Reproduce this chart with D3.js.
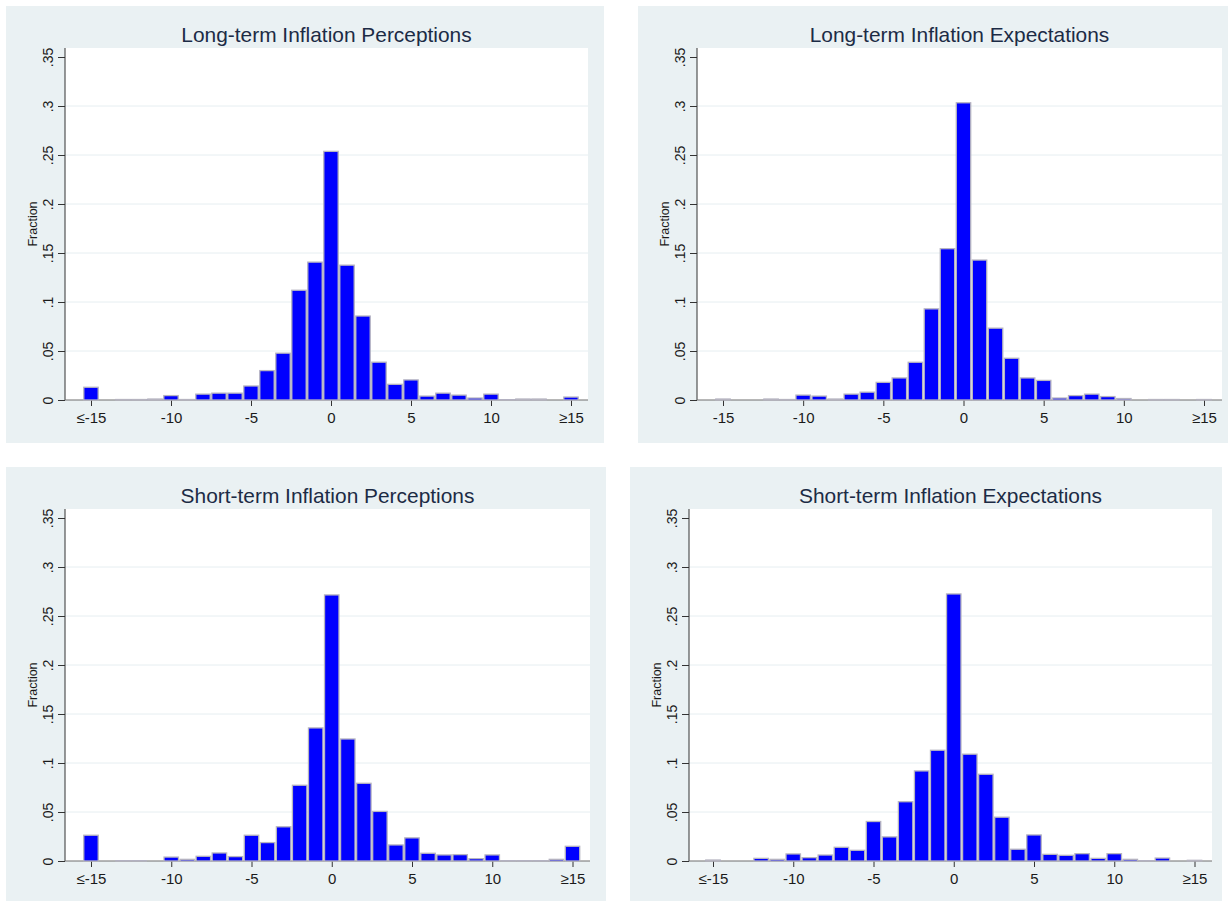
<!DOCTYPE html>
<html>
<head>
<meta charset="utf-8">
<script src="https://cdn.jsdelivr.net/npm/d3@7"></script>
<style>
  body { margin: 0; background: #fff; }
  svg { display: block; }
  text { font-family: "Liberation Sans", Arial, sans-serif; }
</style>
</head>
<body>
<svg id="chart" width="1232" height="901"></svg>
<script>
'use strict'

/* bins: inflation value, -15 means <=-15 and 15 means >=15 */
const bins = [-15, -14, -13, -12, -11, -10, -9, -8, -7, -6, -5, -4, -3, -2, -1, 0,
              1, 2, 3, 4, 5, 6, 7, 8, 9, 10, 11, 12, 13, 14, 15];

const longPerceptions = [0.013, 0, 0.0005, 0.0005, 0.001, 0.0045, 0.0005, 0.006, 0.007, 0.007, 0.0143,
                         0.030, 0.0478, 0.112, 0.1407, 0.2537, 0.1376, 0.0857, 0.0386, 0.016, 0.0205,
                         0.004, 0.007, 0.005, 0.002, 0.006, 0.0003, 0.001, 0.001, 0, 0.003];
const longExpectations = [0.001, 0, 0, 0.001, 0.0005, 0.005, 0.004, 0.001, 0.006, 0.008, 0.018,
                          0.0225, 0.0385, 0.093, 0.1544, 0.3033, 0.1428, 0.0733, 0.0426, 0.0225, 0.020,
                          0.002, 0.0045, 0.006, 0.0035, 0.0015, 0, 0.0005, 0.0005, 0, 0.0005];
const shortPerceptions = [0.0263, 0, 0.0003, 0.0003, 0, 0.004, 0.0017, 0.0048, 0.0082, 0.0045, 0.0263,
                          0.0188, 0.0349, 0.0773, 0.1358, 0.2715, 0.1245, 0.0793, 0.0506, 0.0164, 0.0236,
                          0.0079, 0.0062, 0.0065, 0.0024, 0.0062, 0.0003, 0.0003, 0.0003, 0.0017, 0.015];
const shortExpectations = [0.001, 0, 0, 0.0027, 0.0017, 0.0072, 0.0034, 0.0061, 0.014, 0.0109, 0.0403,
                           0.0246, 0.0605, 0.0919, 0.113, 0.2725, 0.109, 0.0885, 0.0447, 0.012, 0.0266,
                           0.0068, 0.0058, 0.0075, 0.0027, 0.0075, 0.0017, 0.0003, 0.003, 0, 0.0007];

const xTicks = [-15, -10, -5, 0, 5, 10, 15];
const xLabelsCapped = ['≤-15', '-10', '-5', '0', '5', '10', '≥15'];
const xLabelsPlain = ['-15', '-10', '-5', '0', '5', '10', '≥15'];
const yTicks = [0, 0.05, 0.1, 0.15, 0.2, 0.25, 0.3, 0.35];
const yLabels = ['0', '.05', '.1', '.15', '.2', '.25', '.3', '.35'];
const yTitle = 'Fraction';

const titles = ['Long-term Inflation Perceptions', 'Long-term Inflation Expectations',
                'Short-term Inflation Perceptions', 'Short-term Inflation Expectations'];

/* panel boxes: bg = grey region, plot = white region, t15 = pixel of -15 and 15 ticks */
const panels = [
    { title: titles[0], values: longPerceptions,  xLabels: xLabelsCapped,
      bg: [6, 6, 604, 443],   plot: [65, 48, 588, 400],   t15: [91, 571] },
    { title: titles[1], values: longExpectations, xLabels: xLabelsPlain,
      bg: [638, 6, 1228, 443], plot: [697, 48, 1222, 400], t15: [723, 1204] },
    { title: titles[2], values: shortPerceptions, xLabels: xLabelsCapped,
      bg: [6, 467, 606, 901],  plot: [65, 509, 590, 861],  t15: [91, 572.5] },
    { title: titles[3], values: shortExpectations, xLabels: xLabelsCapped,
      bg: [630, 467, 1222, 901], plot: [689, 509, 1212, 861], t15: [713, 1194.5] }
];

const svg = d3.select('#chart');

function drawPanel (p) {
    const [bx0, by0, bx1, by1] = p.bg;
    const [px0, py0, px1, py1] = p.plot;

    svg.append('rect')
        .attr('x', bx0).attr('y', by0)
        .attr('width', bx1 - bx0).attr('height', by1 - by0)
        .attr('fill', '#eaf1f3');

    svg.append('rect')
        .attr('x', px0).attr('y', py0)
        .attr('width', px1 - px0).attr('height', py1 - py0)
        .attr('fill', '#ffffff');

    const xScale = d3.scaleLinear().domain([-15, 15]).range(p.t15);
    const yScale = d3.scaleLinear().domain([0, 0.35]).range([py1, py1 - 343]);

    /* grid */
    svg.append('g')
        .selectAll('line')
        .data(yTicks.filter(v => v > 0 && v < 0.35))
        .enter()
        .append('line')
        .attr('x1', px0).attr('x2', px1)
        .attr('y1', d => yScale(d)).attr('y2', d => yScale(d))
        .attr('stroke', '#e6eef1')
        .attr('stroke-width', 1);

    /* Y AXIS */
    const yAxis = d3.axisLeft(yScale)
                    .tickValues(yTicks)
                    .tickFormat((d, i) => yLabels[i])
                    .tickSizeOuter(0)
                    .tickSize(7);
    const gy = svg.append('g')
        .attr('transform', 'translate(' + px0 + ',0)')
        .call(yAxis);
    gy.select('.domain').remove();
    gy.selectAll('.tick line').attr('stroke', '#333');
    gy.selectAll('.tick text')
        .attr('transform', 'rotate(-90)')
        .attr('x', 0).attr('y', -12).attr('dy', 0)
        .attr('text-anchor', 'middle')
        .style('font-size', '14px')
        .attr('fill', '#1a1a1a');
    svg.append('line')
        .attr('x1', px0).attr('x2', px0)
        .attr('y1', py0).attr('y2', py1)
        .attr('stroke', '#333').attr('stroke-width', 1);

    svg.append('text')
        .attr('transform', 'translate(' + (px0 - 28) + ',' + ((py0 + py1) / 2) + ') rotate(-90)')
        .attr('text-anchor', 'middle')
        .style('font-size', '12.5px')
        .attr('fill', '#1a1a1a')
        .text(yTitle);

    /* X AXIS */
    const xAxis = d3.axisBottom(xScale)
                    .tickValues(xTicks)
                    .tickFormat((d, i) => p.xLabels[i])
                    .tickSize(6);
    const gx = svg.append('g')
        .attr('transform', 'translate(0,' + py1 + ')')
        .call(xAxis);
    gx.select('.domain').remove();
    gx.selectAll('.tick line').attr('stroke', '#333');
    gx.selectAll('.tick text')
        .attr('y', 22.5).attr('dy', 0)
        .style('font-size', '15px')
        .attr('fill', '#1a1a1a');
    svg.append('line')
        .attr('x1', px0).attr('x2', px1)
        .attr('y1', py1).attr('y2', py1)
        .attr('stroke', '#6e6e6e').attr('stroke-width', 1);

    /* bars */
    const unit = xScale(1) - xScale(0);
    const rows = bins.map((b, i) => [b, p.values[i]]).filter(d => d[1] > 0);
    svg.append('g')
        .selectAll('rect')
        .data(rows)
        .enter()
        .append('rect')
        .attr('x', d => xScale(d[0] - 0.5) + 0.8)
        .attr('y', d => yScale(d[1]))
        .attr('width', unit - 1.6)
        .attr('height', d => py1 - yScale(d[1]))
        .attr('fill', '#0000ff')
        .attr('stroke', '#b6b4c0')
        .attr('stroke-width', 1.3);

    /* title */
    svg.append('text')
        .attr('x', (px0 + px1) / 2)
        .attr('y', by0 + 36)
        .attr('text-anchor', 'middle')
        .style('font-size', '20.9px')
        .attr('fill', '#1c2b45')
        .text(p.title);
}

panels.forEach(drawPanel);
</script>
</body>
</html>
